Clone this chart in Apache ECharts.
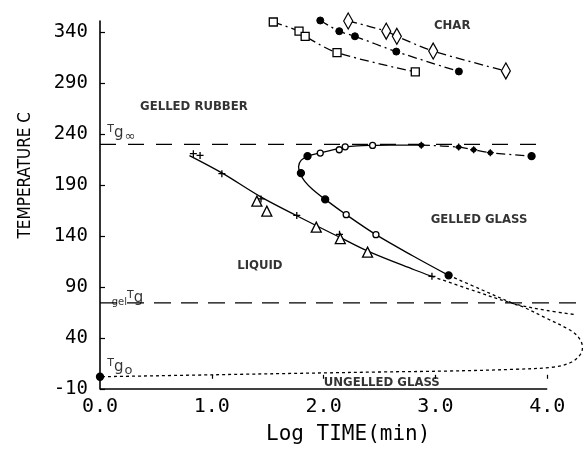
<!DOCTYPE html>
<html><head><meta charset="utf-8">
<script src="https://cdn.jsdelivr.net/npm/echarts@6/dist/echarts.min.js"></script>
<style>html,body{margin:0;padding:0;background:#fff}#c{width:583px;height:452px}</style>
</head><body><div id="c"></div>
<script>
// ---- data ----
const xTicks = [0, 1, 2, 3, 4];
const yTicks = [-10, 40, 90, 140, 190, 240, 290, 340];
const xTitle = 'Log TIME(min)';
const yTitle = 'TEMPERATURE C';
const xAxisEnd = 4;          // drawn axis line ends at 4.0
const xViewMax = 4.32;       // the curves run on past the axis to the page edge

// char curves
const charSquares  = [[1.55, 350], [1.78, 341], [1.835, 336], [2.12, 320], [2.82, 301]];
const charCircles  = [[1.97, 351.5], [2.14, 341], [2.28, 336], [2.65, 321], [3.21, 301.5]];
const charDiamonds = [[2.22, 351], [2.56, 341], [2.655, 336], [2.98, 321.5], [3.63, 302]];

// reference temperatures
const tgInf = 230, gelTg = 74.5, tg0 = 2;
const tgInfSpan = [0, 4];
const gelTgSpan = [0, 4.32];

// vitrification (S) curve
const vitrSolid = [[2.87, 229.3], [2.60, 229.2], [2.44, 229], [2.30, 228.5], [2.19, 227.2], [2.10, 225], [1.97, 221.6],
  [1.86, 218.3], [1.80, 214.5], [1.776, 208], [1.79, 201.5], [1.83, 194], [1.90, 186], [2.014, 176],
  [2.202, 161], [2.468, 141.4], [2.80, 120.5], [3.118, 101.5]];
const vitrDotted = [[3.118, 101.5], [3.40, 88], [3.70, 73.7], [3.79, 70.2], [4.0, 59], [4.18, 49.2], [4.27, 42],
  [4.315, 31.2], [4.30, 24.5], [4.22, 16.5], [4.06, 11.6], [3.70, 9.3], [3.10, 7.6], [2.51, 6.7], [1.25, 4.4], [0, 2]];
const vitrDashDot = [[2.87, 229.3], [3.21, 227.3], [3.34, 224.7], [3.49, 221.8], [3.86, 218.4]];
const vitrFilled = [[1.797, 201.8], [1.856, 218.4], [2.014, 176], [3.118, 101.5], [3.86, 218.4]];
const vitrOpen = [[1.97, 221.4], [2.14, 224.7], [2.193, 227.6], [2.438, 228.9], [2.202, 161], [2.468, 141.4]];
const vitrStars = [[2.874, 229.2], [3.208, 227.3], [3.342, 224.7], [3.491, 221.8]];

// gelation curve
const gelSolid = [[0.80, 219], [1.09, 202], [1.43, 179], [1.76, 160], [2.15, 138.5], [2.40, 125], [2.81, 107], [2.969, 100.5]];
const gelDotted = [[2.969, 100.5], [3.342, 86.5], [3.70, 73.7], [4.0, 67], [4.25, 63]];
const gelPlus = [[0.835, 220.8], [0.895, 219.1], [1.09, 201.2], [1.76, 160.3], [2.142, 141.7], [2.969, 100.5], [1.44, 176.5]];
const gelTriangles = [[1.403, 174.3], [1.492, 164.5], [1.934, 148.8], [2.149, 137.5], [2.393, 124.3]];

// annotations: [x, y, text]
const annotations = [
  [3.15, 346.5, 'CHAR'],
  [0.84, 267, 'GELLED RUBBER'],
  [3.39, 156, 'GELLED GLASS'],
  [1.43, 111, 'LIQUID'],
  [2.52, -3.5, 'UNGELLED GLASS']
];
const tgLabels = [
  [0.06, 241, '{t|T}{g|g}{s|∞}'],
  [0.10, 79, '{sm|gel}{t|T}{g|g}'],
  [0.06, 11, '{t|T}{g|g}{s|o}']
];

// ---- chart ----
const chart = echarts.init(document.getElementById('c'), null, {renderer: 'canvas'});
const black = '#000';
const plusSym = 'path://M0,5L10,5M5,0L5,10';
const thin = 1.3;

function lineS(data, type, extra) {
  return Object.assign({
    type: 'line', data: data, symbol: 'none', smooth: false, clip: false, z: 3,
    lineStyle: {color: black, width: thin, type: type}, silent: true, animation: false
  }, extra || {});
}
function scat(data, symbol, size, fill, extra) {
  return Object.assign({
    type: 'scatter', data: data, symbol: symbol, symbolSize: size, clip: false, z: 5,
    itemStyle: {color: fill, borderColor: black, borderWidth: 1.3, opacity: 1},
    silent: true, animation: false
  }, extra || {});
}
const dashDot = [9, 4, 2, 4];
const richStyle = {
  t: {fontSize: 11, fontFamily: 'DejaVu Sans', color: black, verticalAlign: 'top', padding: [0, 0, 6, 0]},
  g: {fontSize: 15, fontFamily: 'DejaVu Sans', color: black},
  s: {fontSize: 13, fontFamily: 'DejaVu Sans', color: black, padding: [6, 0, 0, 1]},
  sm: {fontSize: 10, fontFamily: 'DejaVu Sans', color: black, padding: [8, 0, 0, 0]}
};

const option = {
  backgroundColor: '#fff',
  animation: false,
  grid: {left: 100, right: 0, top: 21, bottom: 63},
  xAxis: {
    type: 'value', min: 0, max: xViewMax,
    axisLine: {show: false},
    axisTick: {show: true, inside: true, length: 4, customValues: xTicks, lineStyle: {color: black, width: 1.2}},
    axisLabel: {customValues: xTicks, formatter: v => v.toFixed(1), color: black,
      fontFamily: 'DejaVu Sans Mono', fontSize: 20, margin: 8},
    splitLine: {show: false}
  },
  yAxis: {
    type: 'value', min: -10, max: 351,
    axisLine: {show: true, lineStyle: {color: black, width: 1.6}},
    axisTick: {show: true, inside: true, length: 5, customValues: yTicks, lineStyle: {color: black, width: 1.2}},
    axisLabel: {customValues: yTicks, color: black, fontFamily: 'DejaVu Sans Mono', fontSize: 19, margin: 12},
    splitLine: {show: false}
  },
  graphic: [
    {type: 'text', left: 17, top: 112, rotation: Math.PI / 2, style: {text: yTitle,
      font: '17px "Liberation Sans Narrow", "DejaVu Sans Condensed", sans-serif', fill: black}},
    {type: 'text', left: 266, top: 424, style: {text: xTitle,
      font: '21px "DejaVu Sans Mono", monospace', fill: black}}
  ],
  series: [
    // x axis baseline (ends at 4.0 while curves continue)
    lineS([[0, yTicks[0]], [xAxisEnd, yTicks[0]]], 'solid', {lineStyle: {color: black, width: 1.6}}),
    lineS([[tgInfSpan[0], tgInf], [tgInfSpan[1], tgInf]], [16, 12]),
    lineS([[gelTgSpan[0], gelTg], [gelTgSpan[1], gelTg]], [17, 10]),
    lineS(charSquares, dashDot, {smooth: 0.3, symbol: 'rect', symbolSize: 8, showSymbol: true,
      itemStyle: {color: '#fff', borderColor: black, borderWidth: 1.3}}),
    lineS(charCircles, dashDot, {smooth: 0.3, symbol: 'circle', symbolSize: 7, showSymbol: true,
      itemStyle: {color: black, borderColor: black}}),
    lineS(charDiamonds, dashDot, {smooth: 0.3, symbol: 'diamond', symbolSize: [9, 16], showSymbol: true,
      itemStyle: {color: '#fff', borderColor: black, borderWidth: 1.3}}),
    lineS(vitrSolid, 'solid', {smooth: 0.35}),
    lineS(vitrDotted, [3, 3], {smooth: 0.35}),
    lineS(vitrDashDot, dashDot, {smooth: 0.3}),
    lineS(gelSolid, 'solid', {smooth: 0.35}),
    lineS(gelDotted, [3, 3], {smooth: 0.35}),
    scat(vitrFilled, 'circle', 7, black),
    scat(vitrOpen, 'circle', 6, '#fff'),
    scat(vitrStars, 'circle', 4, black),
    scat(vitrStars, plusSym, 7, 'none'),
    scat(gelPlus, plusSym, 7, 'none'),
    scat(gelTriangles, 'triangle', 10, '#fff'),
    scat([[0, tg0]], 'circle', 7, black),
    {
      type: 'scatter', symbol: 'circle', symbolSize: 1, clip: false, silent: true, animation: false, z: 6,
      itemStyle: {color: 'rgba(0,0,0,0)'},
      data: annotations.map(a => ({value: [a[0], a[1]], name: a[2]})),
      label: {show: true, position: 'inside', formatter: p => p.name, color: '#000', fontWeight: 'bold',
        fontFamily: '"Liberation Sans Narrow", "DejaVu Sans Condensed", sans-serif', fontSize: 13}
    },
    {
      type: 'scatter', symbol: 'circle', symbolSize: 1, clip: false, silent: true, animation: false, z: 6,
      itemStyle: {color: 'rgba(0,0,0,0)'},
      data: tgLabels.map(a => ({value: [a[0], a[1]], name: a[2]})),
      label: {show: true, position: 'right', distance: 0, formatter: p => p.name, rich: richStyle}
    }
  ]
};
chart.setOption(option);
</script>
</body></html>
